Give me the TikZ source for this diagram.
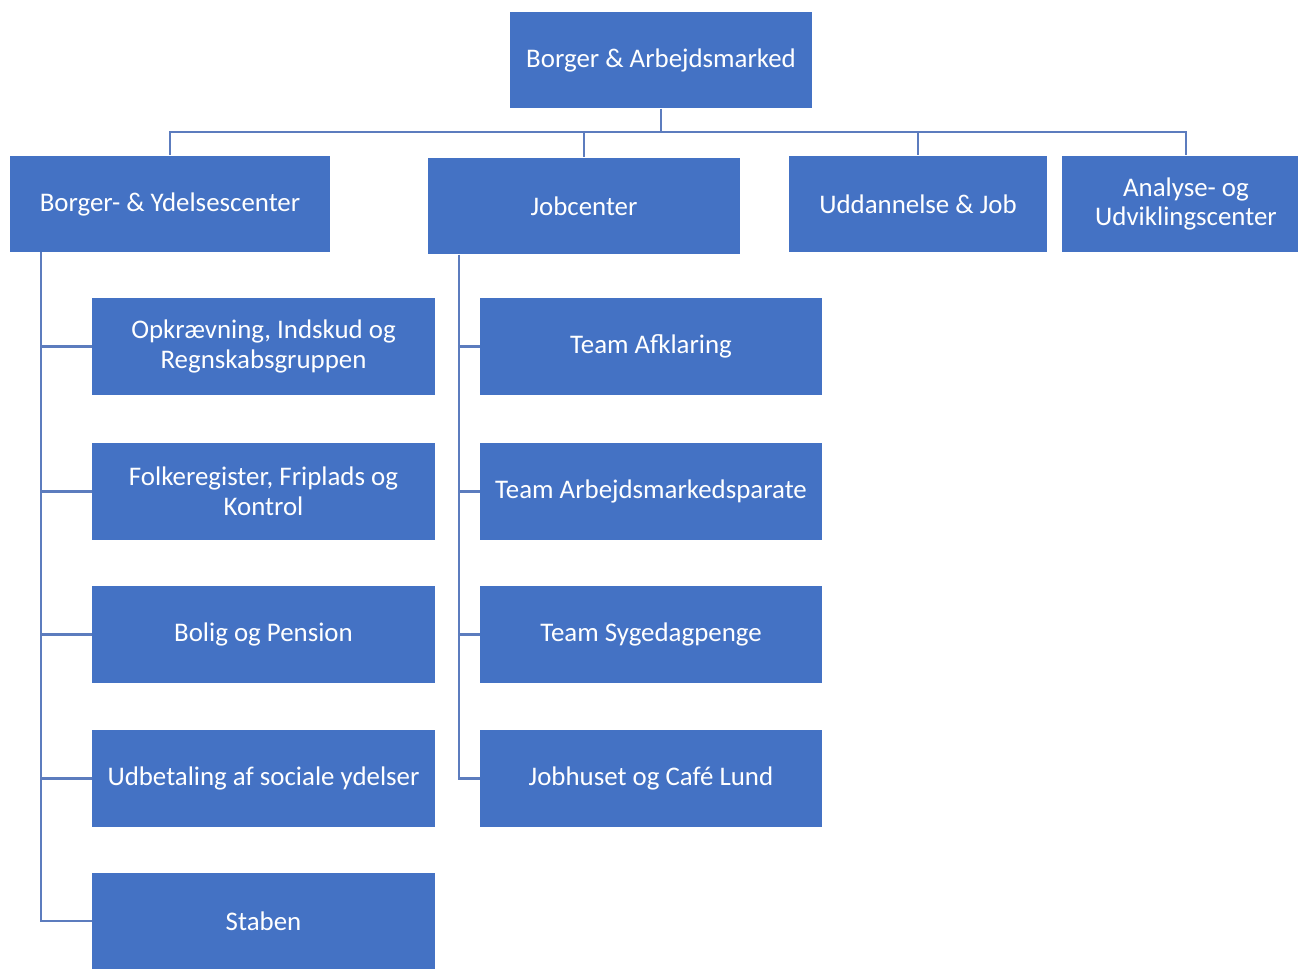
\documentclass[tikz,border=0pt]{standalone}
\usepackage{fontspec}
\setmainfont{Carlito}
\usetikzlibrary{positioning,calc}
\definecolor{boxblue}{RGB}{68,114,196}
\definecolor{linkblue}{RGB}{92,124,190}

\begin{document}
\begin{tikzpicture}[
    x=0.02cm, y=-0.02cm,
    unit/.style={fill=boxblue, text=white, align=center, inner sep=2pt, minimum height=1.93cm,
                 font=\fontsize{15.3}{17}\selectfont},
    link/.style={draw=linkblue, line width=1.2pt}
]
\useasboundingbox (0,0) rectangle (1298,969);

% top level
\node[unit, minimum width=6.04cm] (ba) at (661,60) {Borger \& Arbejdsmarked};

% centres
\node[unit, minimum width=6.4cm]  (byc) at (170,204) {Borger- \& Ydelsescenter};
\node[unit, minimum width=6.24cm] (job) at (584,206) {Jobcenter};
\node[unit, minimum width=5.16cm] (udd) at (918,204) {Uddannelse \& Job};
\node[unit, minimum width=4.96cm] (auc) at (1186,204) {Analyse- og\\Udviklingscenter};

% Borger- & Ydelsescenter teams
\node[unit, minimum width=6.86cm] (opk) at (263.5,346.5) {Opkrævning, Indskud og\\Regnskabsgruppen};
\node[unit, minimum width=6.86cm] (fol) at (263.5,491.5) {Folkeregister, Friplads og\\Kontrol};
\node[unit, minimum width=6.86cm] (bol) at (263.5,634.5) {Bolig og Pension};
\node[unit, minimum width=6.86cm] (udb) at (263.5,778.5) {Udbetaling af sociale ydelser};
\node[unit, minimum width=6.86cm] (stb) at (263.5,921) {Staben};

% Jobcenter teams
\node[unit, minimum width=6.84cm] (afk) at (651,346.5) {Team Afklaring};
\node[unit, minimum width=6.84cm] (arb) at (651,491.5) {Team Arbejdsmarkedsparate};
\node[unit, minimum width=6.84cm] (syg) at (651,634.5) {Team Sygedagpenge};
\node[unit, minimum width=6.84cm] (jhc) at (651,778.5) {Jobhuset og Café Lund};

% connectors from the top
\coordinate (bus) at (661,132);
\draw[link] (ba.south) -- (bus);
\draw[link] (bus) -| (byc.north);
\draw[link] (bus) -| (job.north);
\draw[link] (bus) -| (udd.north);
\draw[link] (bus) -| (auc.north);

% left spine
\coordinate (lsp) at (41,252);
\foreach \t in {opk,fol,bol,udb,stb}
  \draw[link] (lsp) |- (\t.west);

% middle spine
\coordinate (msp) at (459,255);
\foreach \t in {afk,arb,syg,jhc}
  \draw[link] (msp) |- (\t.west);
\end{tikzpicture}
\end{document}
